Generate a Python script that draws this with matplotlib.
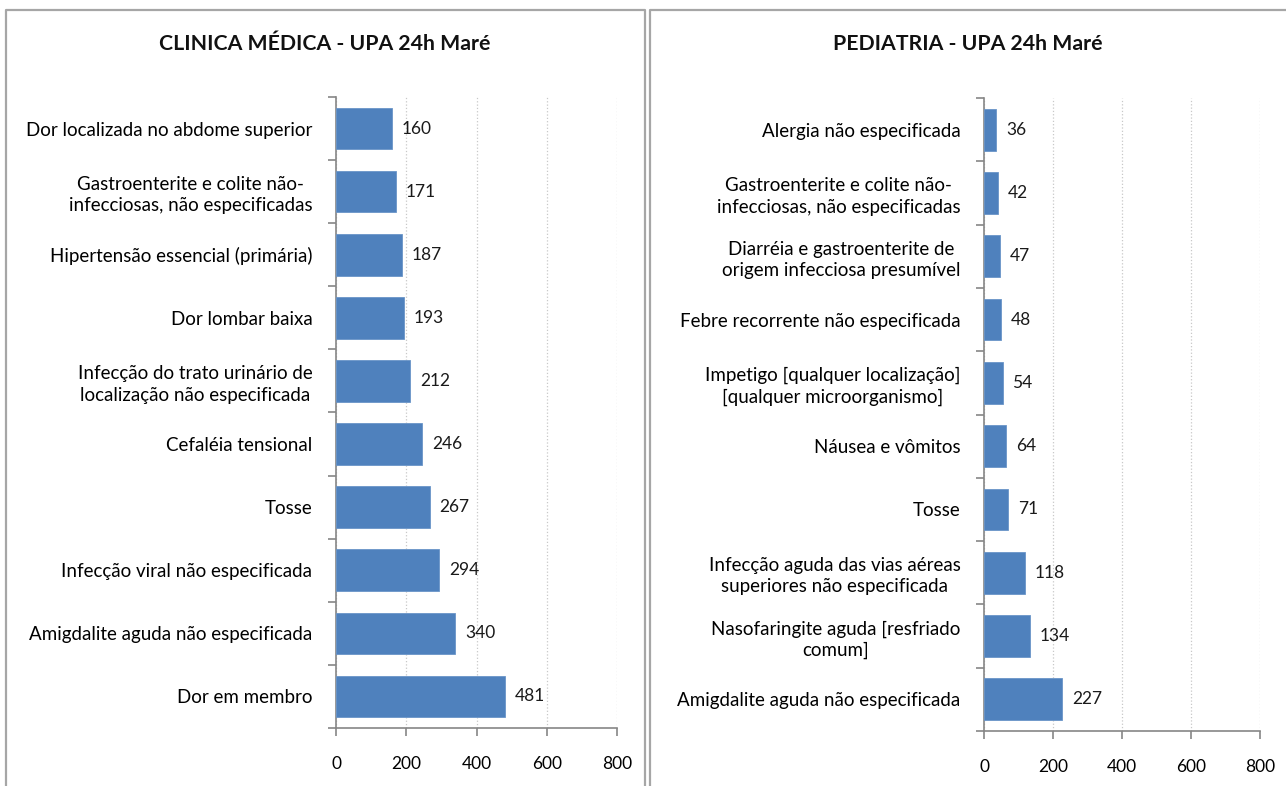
import matplotlib.pyplot as plt
from matplotlib.lines import Line2D

plt.rcParams['font.family'] = ['Lato', 'DejaVu Sans']

clinica_labels = ['Dor localizada no abdome superior',
                  'Gastroenterite e colite não-\ninfecciosas, não especificadas',
                  'Hipertensão essencial (primária)',
                  'Dor lombar baixa',
                  'Infecção do trato urinário de\nlocalização não especificada',
                  'Cefaléia tensional',
                  'Tosse',
                  'Infecção viral não especificada',
                  'Amigdalite aguda não especificada',
                  'Dor em membro']
clinica_vals = [160, 171, 187, 193, 212, 246, 267, 294, 340, 481]

pediatria_labels = ['Alergia não especificada',
                    'Gastroenterite e colite não-\ninfecciosas, não especificadas',
                    'Diarréia e gastroenterite de\norigem infecciosa presumível',
                    'Febre recorrente não especificada',
                    'Impetigo [qualquer localização]\n[qualquer microorganismo]',
                    'Náusea e vômitos',
                    'Tosse',
                    'Infecção aguda das vias aéreas\nsuperiores não especificada',
                    'Nasofaringite aguda [resfriado\ncomum]',
                    'Amigdalite aguda não especificada']
pediatria_vals = [36, 42, 47, 48, 54, 64, 71, 118, 134, 227]

xticks = [0, 200, 400, 600, 800]

fig = plt.figure(figsize=(12.86, 7.86), dpi=100)
W, H = 1286, 786

# panel borders (open at the bottom, as in the screenshot)
border = '#a6a6a6'
for xs, ys in [([5.5, 5.5, 645, 645], [800, 10, 10, 800]),
               ([650, 650, 1300], [800, 10, 10])]:
    fig.add_artist(Line2D([x / W for x in xs], [1 - y / H for y in ys],
                          color=border, lw=1.6, transform=fig.transFigure))


def panel(rect, labels, vals, title, title_x):
    ax = fig.add_axes(rect)
    ys = list(range(len(vals)))
    ax.barh(ys, vals, height=0.66, color='#4f81bd', edgecolor='#6a95c8',
            linewidth=0.6, zorder=3)
    for y, v in zip(ys, vals):
        ax.annotate(str(v), (v, y), xytext=(7, 0), textcoords='offset points',
                    va='center', ha='left', fontsize=12.5, color='#1a1a1a')
    ax.set_xlim(0, 800)
    ax.set_ylim(len(vals) - 0.5, -0.5)
    ax.set_xticks(xticks)
    ax.set_xticklabels([str(t) for t in xticks], fontsize=12.5)
    ax.set_yticks(ys)
    ax.set_yticklabels(labels, fontsize=13.5, multialignment='center',
                       linespacing=1.3)
    ax.set_yticks([y - 0.5 for y in range(len(vals) + 1)], minor=True)
    ax.tick_params(axis='y', which='major', length=0, pad=17)
    ax.tick_params(axis='y', which='minor', length=6, color='#868686', width=1.2)
    ax.tick_params(axis='x', length=6, color='#868686', width=1.2, pad=14)
    for s in ['top', 'right']:
        ax.spines[s].set_visible(False)
    for s in ['left', 'bottom']:
        ax.spines[s].set_color('#868686')
        ax.spines[s].set_linewidth(1.2)
    ax.grid(axis='x', linestyle=':', color='#c8c8c8', linewidth=0.9, zorder=0)
    ax.set_axisbelow(True)
    fig.text(title_x / W, 1 - 44 / H, title, ha='center', va='center',
             fontsize=15.3, fontweight='bold', color='#111111')
    return ax


panel([336 / W, 1 - 728 / H, 281 / W, 631 / H], clinica_labels, clinica_vals,
      'CLINICA MÉDICA - UPA 24h Maré', 325)
panel([984 / W, 1 - 731 / H, 276 / W, 633 / H], pediatria_labels, pediatria_vals,
      'PEDIATRIA - UPA 24h Maré', 968)

fig.savefig('out.png', dpi=100)
